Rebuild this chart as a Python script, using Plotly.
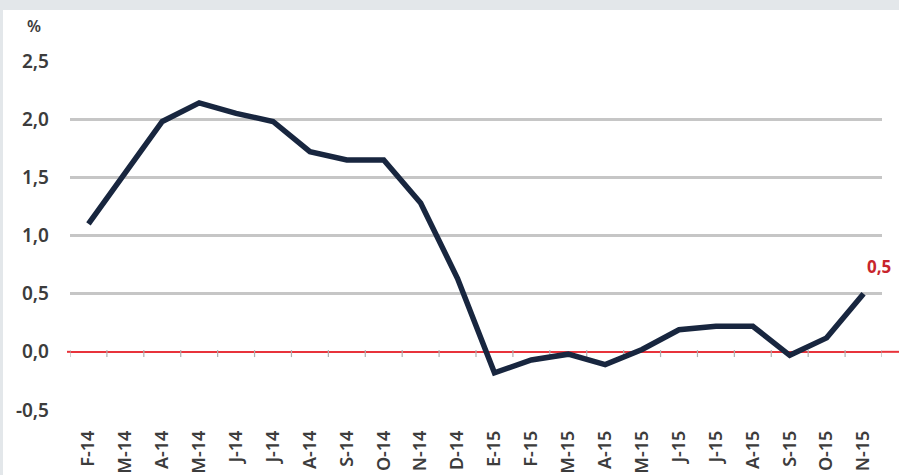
import plotly.graph_objects as go

# Monthly year-on-year change, February 2014 to November 2015
months = ["F-14", "M-14", "A-14", "M-14", "J-14", "J-14", "A-14", "S-14", "O-14", "N-14", "D-14",
          "E-15", "F-15", "M-15", "A-15", "M-15", "J-15", "J-15", "A-15", "S-15", "O-15", "N-15"]
values = [1.10, 1.54, 1.98, 2.14, 2.05, 1.98, 1.72, 1.65, 1.65, 1.28, 0.63,
          -0.18, -0.07, -0.02, -0.11, 0.02, 0.19, 0.22, 0.22, -0.03, 0.12, 0.50]
y_ticks = [-0.5, 0.0, 0.5, 1.0, 1.5, 2.0, 2.5]

W, H = 899, 475
L, R, T, B = 70, 17, 61, 65
pw, ph = W - L - R, H - T - B
ZERO_RED = "#e8333b"
TEXT_GREY = "#3c3c3c"

def px_x(p):
    return (p - L) / pw

def px_y(p):
    return (H - B - p) / ph

# unique category keys so repeated month initials stay separate points
keys = [f"{i}" for i in range(len(months))]

fig = go.Figure()
fig.add_trace(go.Scatter(
    x=keys, y=values, mode="lines",
    line=dict(color="#18263f", width=5.5, shape="linear"),
    hoverinfo="skip", showlegend=False,
))

shapes = [
    # white card on the grey frame
    dict(type="rect", xref="paper", yref="paper", x0=px_x(3), x1=px_x(W + 5),
         y0=px_y(H + 5), y1=px_y(10), fillcolor="white", line=dict(width=0), layer="below"),
    # zero line stubs beyond the plot edges
    dict(type="line", xref="paper", yref="y", x0=px_x(67), x1=0, y0=0, y1=0,
         line=dict(color=ZERO_RED, width=2), layer="below"),
    dict(type="line", xref="paper", yref="y", x0=1, x1=px_x(W + 2), y0=0, y1=0,
         line=dict(color=ZERO_RED, width=2), layer="below"),
]
# small category-boundary ticks on the zero line
for i in range(len(months) + 1):
    shapes.append(dict(type="line", xref="x", yref="y", x0=i - 0.5, x1=i - 0.5,
                       y0=0.015, y1=-0.045, line=dict(color="#b0b0b0", width=1.2),
                       layer="between"))

last = len(values) - 1
annotations = [
    dict(text="%", xref="paper", yref="paper", x=px_x(34), y=px_y(26), showarrow=False,
         font=dict(family="Noto Sans", size=16, color=TEXT_GREY, weight=600),
         xanchor="center", yanchor="middle"),
    dict(text=f"{values[last]:.1f}".replace(".", ","), x=keys[last], y=values[last],
         xref="x", yref="y", showarrow=False, xshift=15, yshift=27,
         font=dict(family="Noto Sans", size=17, color="#c8252c", weight="bold"),
         xanchor="center", yanchor="middle"),
]

fig.update_layout(
    width=W, height=H,
    margin=dict(l=L, r=R, t=T, b=B, pad=0, autoexpand=False),
    paper_bgcolor="#e3e7ea", plot_bgcolor="rgba(0,0,0,0)",
    separators=",.",
    shapes=shapes, annotations=annotations,
    font=dict(family="Noto Sans", color=TEXT_GREY),
    xaxis=dict(
        type="category", tickmode="array", tickvals=keys, ticktext=months,
        tickangle=-90, tickfont=dict(size=18, color=TEXT_GREY, weight=600),
        showgrid=False, zeroline=False, showline=False, ticks="",
        ticklabelstandoff=16, range=[-0.5, len(months) - 0.5], automargin=False,
    ),
    yaxis=dict(
        range=[-0.5, 2.5], tickmode="array", tickvals=y_ticks,
        ticktext=[f"{v:.1f}".replace(".", ",") for v in y_ticks],
        tickfont=dict(size=19, color=TEXT_GREY, weight=600),
        showgrid=True, gridcolor="#c6c6c6", gridwidth=2.5,
        zeroline=True, zerolinecolor=ZERO_RED, zerolinewidth=2,
        showline=False, ticks="", ticklabelstandoff=20, automargin=False,
    ),
)

fig.write_html("out.html")
